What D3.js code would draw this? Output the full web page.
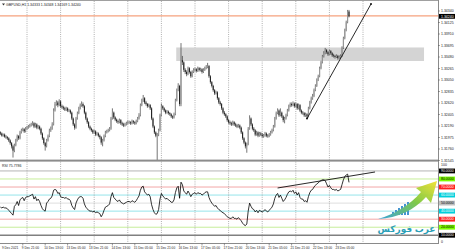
<!DOCTYPE html>
<html>
<head>
<meta charset="utf-8">
<script src="https://cdn.jsdelivr.net/npm/d3@7"></script>
<style>
body { margin: 0; background: #fff; }
text { font-family: "Liberation Sans", "DejaVu Sans", sans-serif; }
</style>
</head>
<body>
<div id="graphic"></div>
<script>
// hourly GBPUSD bars (open = previous close)
const firstOpen = 1.3207;
const closes = [1.3205,1.3201,1.3203,1.3199,1.3198,1.3196,1.3192,1.3187,1.3181,1.3173,1.3183,
1.3192,1.3200,1.3196,1.3207,1.3211,1.3213,1.3209,1.3214,1.3216,1.3218,1.3220,1.3222,1.3224,
1.3218,1.3222,1.3216,1.3218,1.3214,1.3205,1.3196,1.3187,1.3181,1.3192,1.3200,1.3211,1.3214,1.3222,
1.3248,1.3260,1.3263,1.3258,1.3265,1.3256,1.3254,1.3252,1.3250,1.3252,1.3248,1.3248,1.3244,
1.3233,1.3222,1.3216,1.3233,1.3243,1.3252,1.3258,1.3260,1.3256,1.3244,1.3233,1.3226,1.3218,1.3214,
1.3211,1.3207,1.3209,1.3203,1.3205,1.3201,1.3198,1.3188,1.3192,1.3200,1.3207,1.3209,1.3211,1.3214,
1.3233,1.3244,1.3235,1.3231,1.3228,1.3226,1.3230,1.3224,1.3222,1.3220,1.3222,1.3224,
1.3226,1.3226,1.3224,1.3228,1.3226,1.3224,1.3228,1.3233,1.3239,1.3258,1.3267,1.3271,
1.3263,1.3260,1.3256,1.3258,1.3252,1.3233,1.3218,1.3207,1.3201,1.3203,1.3211,1.3239,1.3256,
1.3252,1.3248,1.3244,1.3246,1.3243,1.3241,1.3237,1.3235,1.3241,1.3267,1.3286,1.3294,1.3260,1.3342,
1.3338,1.3324,1.3320,1.3316,1.3327,1.3320,1.3312,
1.3320,1.3324,1.3325,1.3322,1.3327,1.3324,1.3325,1.3320,1.3324,1.3327,1.3329,1.3331,
1.3312,1.3301,1.3294,1.3286,1.3280,1.3282,1.3271,1.3263,1.3260,1.3252,1.3244,1.3241,1.3237,
1.3230,1.3226,1.3224,1.3222,1.3226,1.3222,1.3220,1.3218,1.3220,1.3216,1.3207,1.3196,1.3188,1.3181,
1.3185,1.3214,1.3233,1.3222,1.3214,1.3211,1.3203,1.3207,1.3201,1.3205,
1.3203,1.3200,1.3201,1.3205,1.3201,1.3200,1.3203,1.3207,1.3211,1.3218,1.3233,1.3243,
1.3248,1.3239,1.3244,1.3237,1.3230,1.3233,1.3239,1.3248,1.3256,1.3260,1.3258,1.3261,1.3256,
1.3260,1.3252,1.3258,1.3248,1.3244,1.3243,1.3239,1.3241,1.3237,1.3252,1.3263,1.3271,1.3275,
1.3286,1.3294,1.3305,1.3312,1.3327,1.3338,1.3349,1.3355,1.3361,1.3357,1.3353,1.3359,1.3355,
1.3351,1.3350,1.3348,1.3350,1.3346,1.3348,1.3350,1.3365,1.3383,1.3398,1.3413,1.3433,1.3424];

const highs = [1.3209,1.3207,1.3205,1.3205,1.3202,1.3200,1.3198,1.3194,1.3189,1.3184,1.3186,
1.3195,1.3203,1.3202,1.3210,1.3214,1.3216,1.3215,1.3217,1.3219,1.3221,1.3223,1.3225,1.3228,
1.3226,1.3225,1.3224,1.3221,1.3220,1.3216,1.3207,1.3198,1.3189,1.3195,1.3203,1.3214,1.3218,1.3226,
1.3252,1.3264,1.3267,1.3266,1.3269,1.3267,1.3259,1.3257,1.3255,1.3255,1.3254,1.3251,1.3250,
1.3246,1.3235,1.3224,1.3236,1.3246,1.3255,1.3261,1.3265,1.3263,1.3258,1.3246,1.3235,1.3228,1.3220,
1.3216,1.3213,1.3212,1.3211,1.3208,1.3207,1.3203,1.3200,1.3195,1.3203,1.3210,1.3212,1.3214,1.3217,
1.3236,1.3252,1.3246,1.3237,1.3233,1.3231,1.3233,1.3232,1.3227,1.3225,1.3225,1.3227,
1.3229,1.3229,1.3228,1.3231,1.3230,1.3228,1.3231,1.3236,1.3243,1.3261,1.3270,1.3277,
1.3273,1.3266,1.3262,1.3261,1.3260,1.3254,1.3235,1.3220,1.3209,1.3206,1.3214,1.3242,1.3261,
1.3258,1.3254,1.3250,1.3249,1.3248,1.3245,1.3243,1.3239,1.3244,1.3270,1.3289,1.3299,1.3296,1.3374,
1.3350,1.3340,1.3327,1.3323,1.3330,1.3329,1.3322,
1.3323,1.3327,1.3328,1.3327,1.3330,1.3329,1.3328,1.3327,1.3327,1.3330,1.3333,1.3337,
1.3333,1.3314,1.3303,1.3296,1.3288,1.3285,1.3284,1.3273,1.3266,1.3262,1.3254,1.3247,1.3243,
1.3239,1.3232,1.3229,1.3227,1.3229,1.3228,1.3225,1.3223,1.3223,1.3222,1.3218,1.3209,1.3198,1.3190,
1.3188,1.3217,1.3239,1.3235,1.3224,1.3217,1.3213,1.3210,1.3209,1.3208,
1.3208,1.3206,1.3204,1.3208,1.3207,1.3204,1.3206,1.3210,1.3214,1.3221,1.3236,1.3246,
1.3252,1.3250,1.3252,1.3246,1.3239,1.3236,1.3242,1.3251,1.3259,1.3263,1.3263,1.3265,1.3263,
1.3263,1.3262,1.3261,1.3260,1.3250,1.3247,1.3245,1.3244,1.3243,1.3255,1.3266,1.3274,1.3279,
1.3289,1.3297,1.3308,1.3315,1.3330,1.3341,1.3352,1.3359,1.3365,1.3363,1.3359,1.3362,1.3361,
1.3357,1.3354,1.3352,1.3353,1.3352,1.3351,1.3353,1.3368,1.3386,1.3401,1.3416,1.3436,1.3436];

const lows = [1.3202,1.3199,1.3199,1.3197,1.3195,1.3193,1.3189,1.3184,1.3177,1.3160,1.3170,
1.3181,1.3190,1.3193,1.3194,1.3205,1.3209,1.3206,1.3207,1.3212,1.3214,1.3216,1.3218,1.3220,
1.3215,1.3216,1.3213,1.3213,1.3211,1.3202,1.3193,1.3184,1.3173,1.3179,1.3190,1.3198,1.3208,1.3212,
1.3220,1.3246,1.3257,1.3254,1.3256,1.3253,1.3251,1.3249,1.3247,1.3247,1.3245,1.3245,1.3241,
1.3230,1.3219,1.3212,1.3214,1.3231,1.3241,1.3250,1.3255,1.3253,1.3241,1.3230,1.3223,1.3215,1.3211,
1.3208,1.3204,1.3205,1.3200,1.3201,1.3198,1.3194,1.3184,1.3181,1.3190,1.3198,1.3205,1.3207,1.3209,
1.3212,1.3231,1.3232,1.3228,1.3225,1.3223,1.3224,1.3221,1.3219,1.3217,1.3218,1.3220,
1.3222,1.3223,1.3221,1.3222,1.3223,1.3221,1.3222,1.3226,1.3231,1.3237,1.3256,1.3264,
1.3260,1.3257,1.3253,1.3254,1.3249,1.3230,1.3215,1.3204,1.3198,1.3154,1.3200,1.3209,1.3237,
1.3249,1.3245,1.3241,1.3242,1.3240,1.3238,1.3234,1.3232,1.3233,1.3239,1.3265,1.3284,1.3256,1.3256,
1.3333,1.3320,1.3316,1.3312,1.3314,1.3317,1.3309,
1.3310,1.3318,1.3321,1.3319,1.3320,1.3321,1.3321,1.3317,1.3318,1.3322,1.3325,1.3327,
1.3309,1.3298,1.3291,1.3283,1.3277,1.3278,1.3268,1.3260,1.3257,1.3249,1.3241,1.3238,1.3234,
1.3227,1.3223,1.3221,1.3219,1.3220,1.3219,1.3217,1.3215,1.3216,1.3213,1.3204,1.3193,1.3185,1.3177,
1.3169,1.3183,1.3212,1.3219,1.3211,1.3208,1.3200,1.3201,1.3198,1.3199,
1.3200,1.3197,1.3197,1.3199,1.3198,1.3197,1.3198,1.3201,1.3205,1.3209,1.3216,1.3231,
1.3241,1.3236,1.3237,1.3234,1.3226,1.3224,1.3231,1.3237,1.3246,1.3254,1.3255,1.3256,1.3253,
1.3254,1.3249,1.3250,1.3245,1.3241,1.3240,1.3236,1.3236,1.3233,1.3235,1.3250,1.3261,1.3268,
1.3273,1.3284,1.3292,1.3303,1.3310,1.3325,1.3336,1.3347,1.3353,1.3354,1.3350,1.3351,1.3352,
1.3348,1.3347,1.3345,1.3346,1.3343,1.3344,1.3346,1.3348,1.3363,1.3381,1.3396,1.3411,1.3422];

// RSI(14) line
const rsiValues = [45,44,45,44,44,43,41,39,37,35,46,48,52,47,54,56,57,53,57,58,
58,59,60,61,55,58,53,55,52,47,43,41,40,50,52,55,56,59,66,67,66,62,63,
58,57,57,56,57,55,55,53,47,44,42,50,54,57,58,58,56,49,45,43,41,40,
40,39,40,38,39,38,37,33,36,41,45,46,47,49,58,63,57,55,53,52,54,51,50,49,50,51,
52,52,51,53,52,51,53,56,59,66,70,71,64,62,60,61,58,48,42,38,36,37,42,55,62,
59,57,55,56,54,53,51,51,54,63,69,71,56,76,73,65,63,61,65,62,58,
61,62,63,61,63,62,62,60,61,63,64,64,57,53,50,48,46,47,44,42,41,39,38,37,35,
33,32,31,31,33,31,31,30,32,30,28,25,23,22,24,40,50,46,43,42,39,41,38,41,
40,39,40,42,40,39,41,43,45,49,56,60,62,57,60,56,52,54,57,61,64,65,64,66,62,
64,60,63,57,55,55,52,53,51,58,63,66,67,70,72,74,75,77,78,79,79,78,74,70,72,69,
67,67,66,67,65,66,67,73,79,83,85,86,75.78];

// axis texts
const priceTicks = [1.34340,1.34125,1.33910,1.33695,1.33480,1.33265,1.33050,1.32835,1.32620,1.32405,1.32190,1.31975,1.31760,1.31545];
const timeLabels = ["9 Dec 2021","9 Dec 21:00","10 Dec 13:00","13 Dec 05:00","13 Dec 21:00","14 Dec 13:00",
  "15 Dec 05:00","15 Dec 21:00","16 Dec 13:00","17 Dec 05:00","17 Dec 21:00","20 Dec 13:00",
  "21 Dec 05:00","21 Dec 21:00","22 Dec 13:00","23 Dec 05:00"];
const labelEvery = 16;
const dayStarts = [19,43,67,91,115,139,163,187,211,235,259];

// RSI levels and their colours
const rsiLevels = [90,80,70,60,50,40,30,20,10];
const levelLine = ["#b4b4b4","#c6ee9a","#f2a6a6","#96e4ea","#dedede","#96e4ea","#f2a6a6","#c6ee9a","#808080"];
const levelBox  = ["#000000","#7cfc00","#ff2020","#00d0dc","#c0c0c0","#00d0dc","#ff2020","#7cfc00","#000000"];

// drawn objects
const zoneBars = [125.6, 302.6], zonePrices = [1.33658, 1.33405];
const hLinePrice = 1.3425;
const trendBars = [219, 264.7], trendPrices = [1.3233, 1.3447];
const rsiTrendBars = [198, 267.6], rsiTrendValues = [68.8, 88.7];

const title = "GBPUSD,H1  1.34333 1.34348 1.34169 1.34240";
const rsiTitle = "RSI 75.7786";

const width = 455, height = 250, plotRight = 438;
const fs = 3.5;

const svg = d3.select("#graphic").append("svg")
    .attr("width", width).attr("height", height)
    .style("display", "block");

const x = d3.scaleLinear().domain([0, 312]).range([0.4, 437.2]);
const y = d3.scaleLinear().domain([1.31545, 1.34340]).range([160.5, 11]);
const yR = d3.scaleLinear().domain([0, 100]).range([243.3, 162.9]);

// frame
svg.append("line").attr("x1", 0).attr("x2", plotRight).attr("y1", 0.5).attr("y2", 0.5)
    .attr("stroke", "#a0a0a0");
svg.append("line").attr("x1", plotRight + 0.5).attr("x2", plotRight + 0.5).attr("y1", 0).attr("y2", 243.5)
    .attr("stroke", "#8a8a8a");

// RSI levels
rsiLevels.forEach((v, k) => {
  svg.append("line").attr("x1", 0).attr("x2", plotRight).attr("y1", yR(v)).attr("y2", yR(v))
      .attr("stroke", levelLine[k]).attr("stroke-width", k === 8 ? 1.6 : 1);
});

// day grid
svg.append("g").selectAll("line").data(dayStarts).join("line")
    .attr("x1", d => x(d)).attr("x2", d => x(d))
    .attr("y1", 1).attr("y2", 243)
    .attr("stroke", "#9c9c9c").attr("stroke-width", 0.8).attr("stroke-dasharray", "1,1.2");

// support/resistance zone
svg.append("rect")
    .attr("x", x(zoneBars[0])).attr("width", x(zoneBars[1]) - x(zoneBars[0]))
    .attr("y", y(zonePrices[0])).attr("height", y(zonePrices[1]) - y(zonePrices[0]))
    .attr("fill", "#d4d4d4");

// horizontal line
svg.append("line").attr("x1", 0).attr("x2", plotRight).attr("y1", y(hLinePrice)).attr("y2", y(hLinePrice))
    .attr("stroke", "#f6a27e").attr("stroke-width", 1.2);

// candles
const bars = closes.map((c, i) => ({i: i, o: i ? closes[i - 1] : firstOpen, h: highs[i], l: lows[i], c: c}));
const candles = svg.append("g");
candles.selectAll("line").data(bars).join("line")
    .attr("x1", d => x(d.i)).attr("x2", d => x(d.i))
    .attr("y1", d => y(d.h)).attr("y2", d => y(d.l))
    .attr("stroke", "#3a3a3a").attr("stroke-width", 0.7);
candles.selectAll("rect").data(bars).join("rect")
    .attr("x", d => x(d.i) - 0.5).attr("width", 1)
    .attr("y", d => y(Math.max(d.o, d.c)))
    .attr("height", d => Math.max(0.6, Math.abs(y(d.o) - y(d.c))))
    .attr("fill", d => d.c >= d.o ? "#9a9a9a" : "#1a1a1a");

// price trend line
svg.append("line")
    .attr("x1", x(trendBars[0])).attr("y1", y(trendPrices[0]))
    .attr("x2", x(trendBars[1])).attr("y2", y(trendPrices[1]))
    .attr("stroke", "#111").attr("stroke-width", 0.9);
svg.append("g").selectAll("circle").data([0, 1]).join("circle")
    .attr("cx", k => x(trendBars[k])).attr("cy", k => y(trendPrices[k])).attr("r", 1)
    .attr("fill", "#111");

// panel separator
svg.append("rect").attr("x", 0).attr("y", 159.6).attr("width", plotRight).attr("height", 2)
    .attr("fill", "#8c8c8c");

// RSI line
svg.append("path").datum(rsiValues)
    .attr("fill", "none").attr("stroke", "#000").attr("stroke-width", 0.8)
    .attr("d", d3.line().x((d, i) => x(i)).y(d => yR(d)));

svg.append("line")
    .attr("x1", x(rsiTrendBars[0])).attr("y1", yR(rsiTrendValues[0]))
    .attr("x2", x(rsiTrendBars[1])).attr("y2", yR(rsiTrendValues[1]))
    .attr("stroke", "#111").attr("stroke-width", 0.9);

// bottom border and time axis
svg.append("line").attr("x1", 0).attr("x2", plotRight + 1).attr("y1", 243.5).attr("y2", 243.5)
    .attr("stroke", "#8a8a8a");
const tg = svg.append("g").selectAll("g").data(timeLabels).join("g")
    .attr("transform", (d, k) => "translate(" + x(k * labelEvery) + ",0)");
tg.filter((d, k) => k > 0).append("line").attr("y1", 243.5).attr("y2", 245.5).attr("stroke", "#555").attr("stroke-width", 0.6);
tg.append("text").attr("x", (d, k) => k ? -1 : 1.5).attr("y", 248.8)
    .attr("font-size", 3.2).attr("fill", "#222").text(d => d);

// price axis
svg.append("g").selectAll("text").data(priceTicks).join("text")
    .attr("x", 441).attr("y", d => y(d) + 1.2)
    .attr("font-size", fs).attr("fill", "#222")
    .text(d => d3.format(".5f")(d));
svg.append("g").selectAll("line").data(priceTicks).join("line")
    .attr("x1", plotRight).attr("x2", plotRight + 2).attr("y1", d => y(d)).attr("y2", d => y(d))
    .attr("stroke", "#555").attr("stroke-width", 0.5);
const last = closes[closes.length - 1];
svg.append("rect").attr("x", 439).attr("y", y(last) - 2.4).attr("width", 16).attr("height", 4.8).attr("fill", "#000");
svg.append("text").attr("x", 441).attr("y", y(last) + 1.2).attr("font-size", fs).attr("fill", "#fff")
    .text(d3.format(".5f")(last));

// RSI axis
svg.append("text").attr("x", 441).attr("y", yR(100) + 3).attr("font-size", fs).attr("fill", "#222").text("100");
svg.append("text").attr("x", 441).attr("y", yR(0) - 0.6).attr("font-size", fs).attr("fill", "#222").text("0");
rsiLevels.forEach((v, k) => {
  svg.append("rect").attr("x", 439).attr("y", yR(v) - 2.4).attr("width", 16).attr("height", 4.8)
      .attr("fill", levelBox[k]);
  svg.append("text").attr("x", 441).attr("y", yR(v) + 1.2).attr("font-size", fs)
      .attr("fill", (k === 4 || k === 1 || k === 7) ? "#000" : "#fff")
      .text(d3.format(".4f")(v));
});

// window titles
svg.append("path").attr("d", "M2,3.5 L5,3.5 L3.5,5.5 Z").attr("fill", "#333");
svg.append("text").attr("x", 6).attr("y", 5.6).attr("font-size", fs).attr("fill", "#222").text(title);
svg.append("text").attr("x", 2).attr("y", 166.8).attr("font-size", fs).attr("fill", "#222").text(rsiTitle);

// watermark logo
const defs = svg.append("defs");
const grad = defs.append("linearGradient").attr("id", "arrowGrad")
    .attr("x1", "0%").attr("y1", "100%").attr("x2", "100%").attr("y2", "0%");
grad.append("stop").attr("offset", "0%").attr("stop-color", "#2e9fd8");
grad.append("stop").attr("offset", "55%").attr("stop-color", "#7cc83e");
grad.append("stop").attr("offset", "100%").attr("stop-color", "#f2e22e");
const logo = svg.append("g").attr("opacity", 0.95);
logo.selectAll("rect").data([3, 5, 7, 9, 11, 13]).join("rect")
    .attr("x", (d, k) => 392 + k * 3).attr("y", d => 215 - d).attr("width", 2).attr("height", d => d)
    .attr("fill", "#3b8fd0");
logo.append("path")
    .attr("d", "M378,219 C395,214 410,205 421,192 L416,188 L437,181 L431,203 L426,197 C414,210 398,218 378,219 Z")
    .attr("fill", "url(#arrowGrad)");
logo.append("text").attr("x", 435.5).attr("y", 232).attr("text-anchor", "end")
    .attr("font-family", "DejaVu Sans")
    .attr("font-size", 9).attr("font-weight", "bold").attr("fill", "#1f9bb5")
    .text("عرب فوركس");
</script>
</body>
</html>
